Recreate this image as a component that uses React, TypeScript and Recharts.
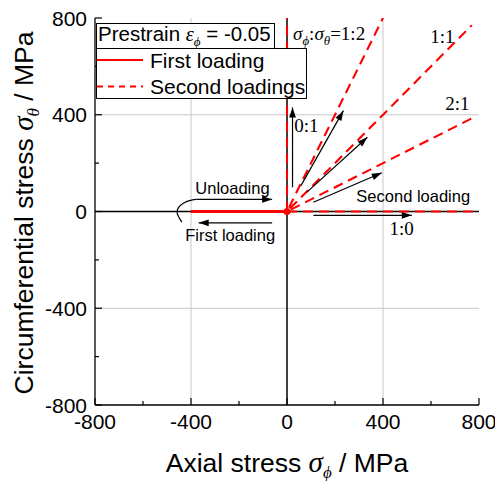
import React from 'react';
import {
  ComposedChart,
  Line,
  XAxis,
  YAxis,
  ReferenceLine,
  ReferenceDot,
  Scatter,
  Legend,
} from 'recharts';

// ---------- data ----------
const axisTicks = [-800, -600, -400, -200, 0, 200, 400, 600, 800];
const labelledTicks = [-800, -400, 0, 400, 800];
const gridValues = [-400, 400];

const firstLoading = [
  { x: -400, y: 0 },
  { x: 0, y: 0 },
];
const originPoint = [{ x: 0, y: 0 }];

const second10 = [
  { x: 0, y: 0 },
  { x: 800, y: 0 },
];
const second01 = [
  { x: 0, y: 0 },
  { x: 0, y: 800 },
];
const second12 = [
  { x: 8, y: 16 },
  { x: 400, y: 800 },
];
const second11 = [
  { x: 12, y: 12 },
  { x: 770, y: 770 },
];
const second21 = [
  { x: 16, y: 8 },
  { x: 780, y: 390 },
];

const arrow01 = [
  { x: 23, y: 100 },
  { x: 23, y: 430 },
];
const arrow12 = [
  { x: 58, y: 107 },
  { x: 235, y: 417 },
];
const arrow11 = [
  { x: 83, y: 80 },
  { x: 335, y: 307 },
];
const arrow21 = [
  { x: 110, y: 38 },
  { x: 395, y: 160 },
];
const arrow10 = [
  { x: 110, y: -16 },
  { x: 520, y: -16 },
];
const arrowUnloading = [
  { x: -378, y: 50 },
  { x: -62, y: 50 },
];
const arrowFirstLoading = [
  { x: -62, y: -47 },
  { x: -368, y: -47 },
];
const hookCurve = [
  { x: -438, y: -44 },
  { x: -458, y: 0 },
  { x: -432, y: 34 },
  { x: -398, y: 47 },
  { x: -378, y: 50 },
];

// ---------- layout ----------
const W = 495;
const H = 481;
const PLOT = { left: 95, top: 18, right: 479, bottom: 405 };
const KX = (PLOT.right - PLOT.left) / 1600;
const KY = (PLOT.bottom - PLOT.top) / 1600;

const SANS = '"Liberation Sans", Arial, sans-serif';
const SERIF = '"Liberation Serif", "Times New Roman", serif';
const RED = '#ff0000';
const DASH = '10 6';

const MAJOR = 7;
const MINOR = 4;

function tickLen(v: number) {
  return labelledTicks.includes(v) ? MAJOR : MINOR;
}

const BottomTick = (p: any) => {
  const v = p.payload.value;
  const len = tickLen(v);
  return (
    <g>
      <line x1={p.x} y1={p.y} x2={p.x} y2={p.y - len} stroke="#000" strokeWidth={1.2} />
      {labelledTicks.includes(v) && (
        <text x={p.x} y={p.y + 24} textAnchor="middle" fontFamily={SANS} fontSize={21} fill="#000">
          {v}
        </text>
      )}
    </g>
  );
};
const TopTick = (p: any) => {
  const len = tickLen(p.payload.value);
  return <line x1={p.x} y1={p.y} x2={p.x} y2={p.y + len} stroke="#000" strokeWidth={1.2} />;
};
const LeftTick = (p: any) => {
  const v = p.payload.value;
  const len = tickLen(v);
  return (
    <g>
      <line x1={p.x} y1={p.y} x2={p.x + len} y2={p.y} stroke="#000" strokeWidth={1.2} />
      {labelledTicks.includes(v) && (
        <text x={p.x - 8} y={p.y + 7.5} textAnchor="end" fontFamily={SANS} fontSize={21} fill="#000">
          {v}
        </text>
      )}
    </g>
  );
};
const RightTick = (p: any) => {
  const len = tickLen(p.payload.value);
  return <line x1={p.x} y1={p.y} x2={p.x - len} y2={p.y} stroke="#000" strokeWidth={1.2} />;
};

function arrowDot(data: { x: number; y: number }[]) {
  return (props: any) => {
    const { cx, cy, index } = props;
    if (index !== data.length - 1 || cx == null || cy == null) return <g key={`n${index}`} />;
    const p = data[index - 1];
    const q = data[index];
    const ang = Math.atan2(-(q.y - p.y) * KY, (q.x - p.x) * KX);
    const L = 10;
    const hw = 3.4;
    const bx = cx - L * Math.cos(ang);
    const by = cy - L * Math.sin(ang);
    const nx = -Math.sin(ang) * hw;
    const ny = Math.cos(ang) * hw;
    return (
      <polygon
        key={`a${index}`}
        points={`${cx},${cy} ${bx + nx},${by + ny} ${bx - nx},${by - ny}`}
        fill="#000"
      />
    );
  };
}

function arrowLine(id: string, data: { x: number; y: number }[]) {
  return (
    <Line
      key={id}
      data={data}
      dataKey="y"
      type="linear"
      stroke="#000"
      strokeWidth={1.2}
      dot={arrowDot(data)}
      activeDot={false}
      isAnimationActive={false}
      legendType="none"
    />
  );
}

function dashedLine(id: string, data: { x: number; y: number }[]) {
  return (
    <Line
      key={id}
      data={data}
      dataKey="y"
      type="linear"
      stroke={RED}
      strokeWidth={2.1}
      strokeDasharray={DASH}
      dot={false}
      activeDot={false}
      isAnimationActive={false}
      legendType="none"
    />
  );
}

function note(id: string, x: number, y: number, render: (cx: number, cy: number) => React.ReactElement) {
  return (
    <ReferenceDot
      key={id}
      x={x}
      y={y}
      r={0}
      ifOverflow="visible"
      shape={(p: any) => render(p.cx, p.cy)}
    />
  );
}

const serifText = (txt: string) => (cx: number, cy: number) => (
  <text x={cx} y={cy} fontFamily={SERIF} fontSize={19} fill="#000">
    {txt}
  </text>
);
const sansText = (txt: string) => (cx: number, cy: number) => (
  <text x={cx} y={cy} fontFamily={SANS} fontSize={16.5} fill="#000">
    {txt}
  </text>
);

const ratioTitle = (cx: number, cy: number) => (
  <text x={cx} y={cy} fontFamily={SERIF} fontSize={19} fill="#000">
    <tspan fontStyle="italic">σ</tspan>
    <tspan fontStyle="italic" fontSize={13} dy={5}>ϕ</tspan>
    <tspan dy={-5}>:</tspan>
    <tspan fontStyle="italic">σ</tspan>
    <tspan fontStyle="italic" fontSize={13} dy={5}>θ</tspan>
    <tspan dy={-5}>=1:2</tspan>
  </text>
);

const LegendContent = () => (
  <svg width={212} height={77} style={{ display: 'block' }}>
    <rect x={0.5} y={0.5} width={178} height={25} fill="#fff" stroke="#000" strokeWidth={1} />
    <text x={2} y={18} fontFamily={SANS} fontSize={20.5} fill="#000">
      Prestrain{' '}
      <tspan fontFamily={SERIF} fontStyle="italic">ε</tspan>
      <tspan fontFamily={SERIF} fontStyle="italic" fontSize={13} dy={5}>ϕ</tspan>
      <tspan dy={-5}> = -0.05</tspan>
    </text>
    <rect x={0.5} y={25.5} width={210} height={50} fill="#fff" stroke="#000" strokeWidth={1} />
    <line x1={1} y1={37} x2={47} y2={37} stroke={RED} strokeWidth={2} />
    <text x={54} y={44.5} fontFamily={SANS} fontSize={21} fill="#000">
      First loading
    </text>
    <line x1={1} y1={63.5} x2={47} y2={63.5} stroke={RED} strokeWidth={2} strokeDasharray="6 5" />
    <text x={54} y={70.5} fontFamily={SANS} fontSize={21} fill="#000">
      Second loadings
    </text>
  </svg>
);

const XTitle = (props: any) => {
  const vb = props.viewBox;
  const cx = vb.x + vb.width / 2;
  return (
    <text x={cx} y={472} textAnchor="middle" fontFamily={SANS} fontSize={26.5} fill="#000">
      Axial stress{' '}
      <tspan fontFamily={SERIF} fontStyle="italic" fontSize={29}>σ</tspan>
      <tspan fontFamily={SERIF} fontStyle="italic" fontSize={17} dy={6}>ϕ</tspan>
      <tspan dy={-6}> / MPa</tspan>
    </text>
  );
};
const YTitle = (props: any) => {
  const vb = props.viewBox;
  const cy = vb.y + vb.height / 2 + 1.5;
  const cx = 33;
  return (
    <text
      x={cx}
      y={cy}
      transform={`rotate(-90, ${cx}, ${cy})`}
      textAnchor="middle"
      fontFamily={SANS}
      fontSize={26.5}
      fill="#000"
    >
      Circumferential stress{' '}
      <tspan fontFamily={SERIF} fontStyle="italic" fontSize={29}>σ</tspan>
      <tspan fontFamily={SERIF} fontStyle="italic" fontSize={17} dy={6}>θ</tspan>
      <tspan dy={-6}> / MPa</tspan>
    </text>
  );
};

export default function App() {
  return (
    <div style={{ position: 'absolute', left: 0, top: 0, background: '#fff' }}>
      <ComposedChart
        width={W}
        height={H}
        margin={{ top: PLOT.top, right: W - PLOT.right, bottom: H - PLOT.bottom - 30, left: 0 }}
      >
        <XAxis
          xAxisId={0}
          type="number"
          dataKey="x"
          domain={[-800, 800]}
          ticks={axisTicks}
          interval={0}
          allowDataOverflow
          height={30}
          tickSize={0}
          tickMargin={0}
          tickLine={false}
          axisLine={{ stroke: '#000', strokeWidth: 1.3 }}
          tick={(p: any) => <BottomTick {...p} />}
          label={{ content: (p: any) => <XTitle {...p} /> }}
        />
        <XAxis
          xAxisId="top"
          orientation="top"
          type="number"
          dataKey="x"
          domain={[-800, 800]}
          ticks={axisTicks}
          interval={0}
          allowDataOverflow
          height={0}
          tickSize={0}
          tickMargin={0}
          tickLine={false}
          axisLine={{ stroke: '#000', strokeWidth: 1.3 }}
          tick={(p: any) => <TopTick {...p} />}
        />
        <YAxis
          yAxisId={0}
          type="number"
          dataKey="y"
          domain={[-800, 800]}
          ticks={axisTicks}
          interval={0}
          allowDataOverflow
          width={PLOT.left}
          tickSize={0}
          tickMargin={0}
          tickLine={false}
          axisLine={{ stroke: '#000', strokeWidth: 1.3 }}
          tick={(p: any) => <LeftTick {...p} />}
          label={{ content: (p: any) => <YTitle {...p} /> }}
        />
        <YAxis
          yAxisId="right"
          orientation="right"
          type="number"
          dataKey="y"
          domain={[-800, 800]}
          ticks={axisTicks}
          interval={0}
          allowDataOverflow
          width={0}
          tickSize={0}
          tickMargin={0}
          tickLine={false}
          axisLine={{ stroke: '#000', strokeWidth: 1.3 }}
          tick={(p: any) => <RightTick {...p} />}
        />

        {gridValues.map((v) => (
          <ReferenceLine key={`gx${v}`} x={v} stroke="#c8c8c8" strokeWidth={1} />
        ))}
        {gridValues.map((v) => (
          <ReferenceLine key={`gy${v}`} y={v} stroke="#c8c8c8" strokeWidth={1} />
        ))}
        <ReferenceLine x={0} stroke="#000" strokeWidth={1.5} />
        <ReferenceLine y={0} stroke="#000" strokeWidth={1.5} />

        {dashedLine('s10', second10)}
        {dashedLine('s01', second01)}
        {dashedLine('s12', second12)}
        {dashedLine('s11', second11)}
        {dashedLine('s21', second21)}

        <Line
          data={firstLoading}
          dataKey="y"
          type="linear"
          stroke={RED}
          strokeWidth={3}
          dot={false}
          activeDot={false}
          isAnimationActive={false}
          legendType="none"
        />
        <Scatter
          data={originPoint}
          dataKey="y"
          fill={RED}
          isAnimationActive={false}
          legendType="none"
          shape={(p: any) => <circle cx={p.cx} cy={p.cy} r={3.5} fill={RED} />}
        />

        {arrowLine('a01', arrow01)}
        {arrowLine('a12', arrow12)}
        {arrowLine('a11', arrow11)}
        {arrowLine('a21', arrow21)}
        {arrowLine('a10', arrow10)}
        {arrowLine('aun', arrowUnloading)}
        {arrowLine('afl', arrowFirstLoading)}
        <Line
          data={hookCurve}
          dataKey="y"
          type="natural"
          stroke="#000"
          strokeWidth={1.2}
          dot={false}
          activeDot={false}
          isAnimationActive={false}
          legendType="none"
        />

        {note('t12', 25, 709, ratioTitle)}
        {note('t11', 597, 696, serifText('1:1'))}
        {note('t21', 659, 420, serifText('2:1'))}
        {note('t01', 30, 330, serifText('0:1'))}
        {note('t10', 427, -97, serifText('1:0'))}
        {note('tsl', 289, 41, sansText('Second loading'))}
        {note('tul', -382, 72, sansText('Unloading'))}
        {note('tfl', -424, -124, sansText('First loading'))}

        <Legend
          layout="vertical"
          align="center"
          verticalAlign="middle"
          content={() => <LegendContent />}
          wrapperStyle={{ left: 96, top: 22.5, width: 212, height: 77 }}
        />
      </ComposedChart>
    </div>
  );
}
